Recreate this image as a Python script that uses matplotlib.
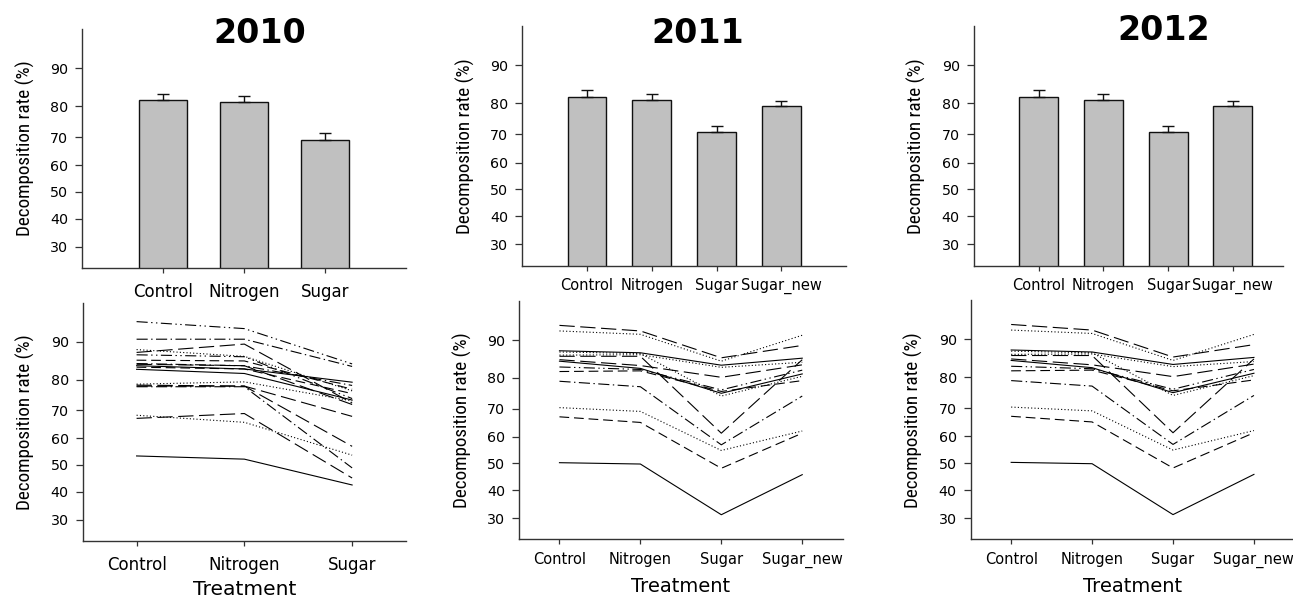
import numpy as np
import matplotlib
matplotlib.use('Agg')
import matplotlib.pyplot as plt
from matplotlib import font_manager as fm

# ---------------- data ----------------
treat_2010 = ['Control', 'Nitrogen', 'Sugar']
treat_2011 = ['Control', 'Nitrogen', 'Sugar', 'Sugar_new']
treat_2012 = ['Control', 'Nitrogen', 'Sugar', 'Sugar_new']

bar_mean_2010 = [81.7, 81.3, 69.0]
bar_se_2010 = [1.7, 1.8, 2.3]
bar_mean_2011 = [81.8, 81.1, 70.7, 79.1]
bar_se_2011 = [2.0, 1.5, 2.3, 1.7]
bar_mean_2012 = [81.8, 81.1, 70.7, 79.1]
bar_se_2012 = [2.0, 1.5, 2.3, 1.7]

yticks = [30, 40, 50, 60, 70, 80, 90]

# individual plots (Control, Nitrogen, Sugar)
lines_2010 = [
    [94.1, 92.8, 84.5],
    [90.6, 90.6, 83.8],
    [88.2, 86.5, 76.5],
    [87.5, 89.5, 72.5],
    [86.9, 86.4, 74.0],
    [85.5, 85.3, 77.0],
    [84.6, 84.0, 78.2],
    [84.4, 84.0, 72.0],
    [84.0, 83.1, 79.2],
    [83.6, 83.1, 75.6],
    [83.0, 81.8, 73.5],
    [78.6, 79.3, 73.2],
    [78.3, 78.0, 67.9],
    [78.0, 78.0, 57.0],
    [77.8, 77.8, 48.9],
    [67.2, 68.9, 45.1],
    [68.3, 65.8, 53.7],
    [53.4, 52.2, 42.5],
]
styles_2010 = ['dashdotdot', 'dashdot', 'dot', 'longdash', 'dashdotdot', 'dash',
               'dashdot', 'longdash', 'solid', 'dash', 'solid', 'dot',
               'longdash', 'longdash', 'dashdot', 'longdash', 'dot', 'solid']

# individual plots (Control, Nitrogen, Sugar, Sugar_new)
lines_2011 = [
    [93.1, 92.0, 85.7, 88.8],
    [92.0, 91.3, 84.8, 91.1],
    [87.5, 87.0, 83.7, 85.6],
    [86.4, 86.5, 83.1, 84.5],
    [86.1, 86.1, 61.3, 85.2],
    [85.2, 83.6, 80.2, 83.8],
    [84.8, 82.8, 75.2, 81.2],
    [83.2, 82.5, 76.3, 82.3],
    [81.9, 82.1, 75.8, 79.2],
    [87.2, 86.8, 74.3, 80.5],
    [79.0, 77.3, 57.0, 74.3],
    [70.4, 69.1, 54.9, 62.1],
    [67.2, 65.2, 48.2, 61.3],
    [50.3, 49.8, 31.2, 45.8],
]
styles_2011 = ['longdash', 'dot', 'solid', 'dot', 'longdash', 'longdash', 'solid',
               'dashdotdot', 'dash', 'dot', 'dashdot', 'dot', 'dash', 'solid']
lines_2012 = [row[:] for row in lines_2011]
styles_2012 = list(styles_2011)

# ---------------- styling ----------------
plt.rcParams['lines.scale_dashes'] = False
DASHES = {
    'solid': '-',
    'dot': (0, (0.8, 1.6)),
    'dash': (0, (7, 3.5)),
    'longdash': (0, (11, 4)),
    'dashdot': (0, (8, 2.5, 1, 2.5)),
    'dashdotdot': (0, (8, 2.5, 1, 2.5, 1, 2.5)),
}

MAIN = 'DejaVu Sans'
plt.rcParams['font.family'] = [MAIN]


def pick_label_font():
    """Prefer a narrow/condensed sans face for the rotated axis label."""
    best = None
    best_rank = 99
    for f in fm.fontManager.ttflist:
        n = f.name.lower()
        st = str(f.stretch).lower()
        if f.style != 'normal':
            continue
        w = f.weight
        if isinstance(w, str):
            if w not in ('normal', 'regular', 'book'):
                continue
        elif w != 400:
            continue
        if 'mono' in n or 'serif' in n:
            continue
        narrow = ('narrow' in n or 'condensed' in n or 'condensed' in st
                  or 'condensed' in f.fname.lower() or 'narrow' in f.fname.lower())
        if not narrow:
            continue
        fn = f.fname.lower()
        if 'extra' in fn or 'ultra' in fn or 'semi' in fn or 'italic' in fn \
                or 'bold' in fn or 'light' in fn or 'medium' in fn or 'thin' in fn \
                or 'black' in fn:
            continue
        if 'liberation' in n:
            rank = 0
        elif 'arial' in n:
            rank = 1
        elif 'roboto' in n or 'noto sans' in n or 'open sans' in n:
            rank = 2
        else:
            rank = 3
        if rank < best_rank:
            best_rank = rank
            best = f
    if best is not None:
        return fm.FontProperties(fname=best.fname)
    return fm.FontProperties(family='Liberation Sans')


ylab_prop = pick_label_font()

W, H = 1293, 598
fig = plt.figure(figsize=(W / 100, H / 100), dpi=100)

# fit the label size so that its length matches the reference (~175 px)
_r = fig.canvas.get_renderer()
ylab_prop.set_size(12)
_t = fig.text(0.5, 0.5, 'Decomposition rate (%)', fontproperties=ylab_prop, rotation=90)
_h = _t.get_window_extent(renderer=_r).height
_t.remove()
ylab_prop.set_size(min(16.0, 12 * 176 / _h))

SPINE = '#333333'


def fwd(v):
    v = np.asarray(v, dtype=float)
    return np.arcsin(np.sqrt(np.clip(v / 100.0, 0, 1)))


def inv(a):
    a = np.asarray(a, dtype=float)
    return 100.0 * np.sin(np.clip(a, 0, np.pi / 2)) ** 2


def make_ax(l, r, t, b):
    ax = fig.add_axes([l / W, 1 - b / H, (r - l) / W, (b - t) / H])
    ax.set_yscale('function', functions=(fwd, inv))
    ax.set_ylim(23, 97)
    ax.set_yticks(yticks)
    ax.set_yticklabels([str(v) for v in yticks])
    ax.yaxis.set_minor_locator(matplotlib.ticker.NullLocator())
    for s in ['top', 'right']:
        ax.spines[s].set_visible(False)
    for s in ['left', 'bottom']:
        ax.spines[s].set_color(SPINE)
        ax.spines[s].set_linewidth(1.0)
    ax.tick_params(axis='y', direction='out', length=5, width=0.9, pad=5,
                   labelsize=10.3, color=SPINE, labelcolor='black')
    ax.set_ylabel('Decomposition rate (%)', fontproperties=ylab_prop)
    ax.yaxis.label.set_va('center')
    ax.yaxis.set_label_coords(-57 / (r - l), 0.5)
    return ax


def bar_panel(l, r, t, b, cats, means, ses, xmax, xsize, xpad):
    ax = make_ax(l, r, t, b)
    x = np.arange(len(cats))
    ax.bar(x, means, width=0.6, color='#c0c0c0', edgecolor='#111111',
           linewidth=1.0, zorder=2)
    ax.errorbar(x, means, yerr=[np.zeros(len(ses)), ses], fmt='none',
                ecolor='#111111', elinewidth=1.0, capsize=4, capthick=1.0, zorder=3)
    ax.set_xlim(-1, xmax)
    ax.set_xticks(x)
    ax.set_xticklabels(cats)
    ax.tick_params(axis='x', direction='out', length=3.6, width=0.9, pad=xpad,
                   labelsize=xsize, color=SPINE, labelcolor='black')
    return ax


def line_panel(l, r, t, b, cats, rows, styles, xsize, xpad, tsize, ty):
    ax = make_ax(l, r, t, b)
    x = np.arange(len(cats))
    for row, st in zip(rows, styles):
        ax.plot(x, row, color='black', linewidth=0.8, linestyle=DASHES[st])
    ax.set_xlim(-0.5, len(cats) - 0.5)
    ax.set_xticks(x)
    ax.set_xticklabels(cats)
    ax.tick_params(axis='x', direction='out', length=3.6, width=0.9, pad=xpad,
                   labelsize=xsize, color=SPINE, labelcolor='black')
    ax.set_xlabel('Treatment', fontsize=tsize)
    ax.xaxis.set_label_coords(0.5, ty)
    return ax


# 2010
bar_panel(82, 406, 29, 268, treat_2010, bar_mean_2010, bar_se_2010, 3, 12.0, 7.2)
line_panel(82.7, 406, 302.7, 540.7, treat_2010, lines_2010, styles_2010,
           12.0, 7.2, 14.6, -0.167)
# 2011
bar_panel(522.3, 846, 26, 265.7, treat_2011, bar_mean_2011, bar_se_2011, 4, 10.5, 5.0)
line_panel(519, 842.7, 301, 539.3, treat_2011, lines_2011, styles_2011,
           10.5, 5.3, 14.0, -0.157)
# 2012
bar_panel(973.7, 1283, 26, 265.7, treat_2012, bar_mean_2012, bar_se_2012,
          -1 + (1283 - 973.7) / 64.8, 10.5, 5.0)
line_panel(970.7, 1294.4, 300, 539.3, treat_2012, lines_2012, styles_2012,
           10.5, 5.3, 14.0, -0.157)

# year titles
for txt, cx, base in [('2010', 260, 43), ('2011', 697.5, 43), ('2012', 1163.7, 40)]:
    fig.text(cx / W, 1 - base / H, txt, ha='center', va='baseline',
             fontsize=24, fontweight='bold', color='black')

fig.savefig('out.png', dpi=100)
